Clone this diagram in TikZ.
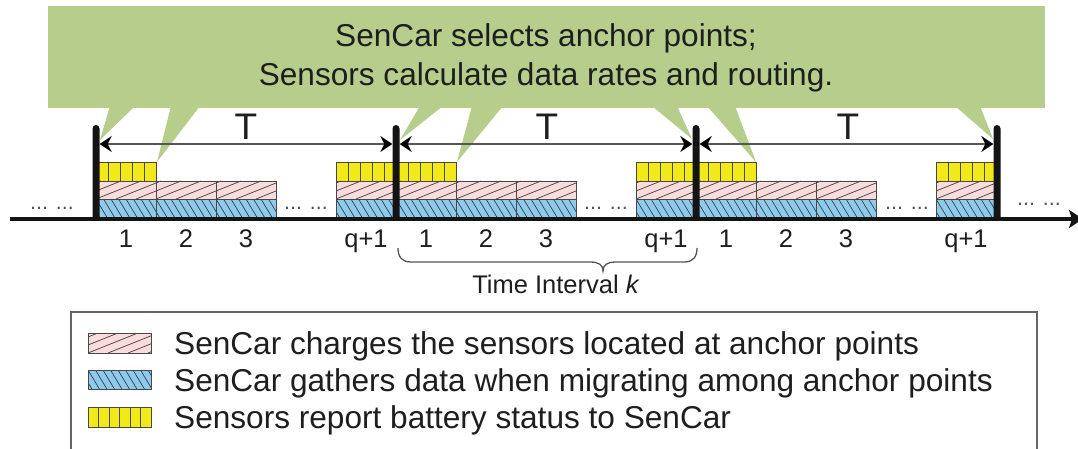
\documentclass[tikz,border=0pt]{standalone}
\usepackage{fontspec}
\setmainfont{Liberation Sans}
\usetikzlibrary{arrows.meta}
\definecolor{calloutgreen}{HTML}{B6CD8B}
\definecolor{yellowfill}{HTML}{F2EA18}
\definecolor{pinkfill}{HTML}{FADCDD}
\definecolor{bluefill}{HTML}{8DCBEE}
\definecolor{txt}{HTML}{1E1E1E}
\definecolor{dimgray}{HTML}{555555}
\definecolor{dotcol}{HTML}{4A5570}

\newcommand\pinkbox[4]{%
  \begin{scope}
    \clip ({#1},{#2}) rectangle ++({#3},{#4});
    \fill[pinkfill] ({#1},{#2}) rectangle ++({#3},{#4});
    \foreach \k in {-3,...,4}
      \draw[hatchline] ({#1+\k*20},{#2+#4}) -- ++({2.5*#4},{-#4});
  \end{scope}
  \draw[cellline] ({#1},{#2}) rectangle ++({#3},{#4});}

\newcommand\bluebox[4]{%
  \begin{scope}
    \clip ({#1},{#2}) rectangle ++({#3},{#4});
    \fill[bluefill] ({#1},{#2}) rectangle ++({#3},{#4});
    \foreach \k in {-3,...,10}
      \draw[hatchline] ({#1+\k*7.5},{#2}) -- ++({0.6*#4},{#4});
  \end{scope}
  \draw[cellline] ({#1},{#2}) rectangle ++({#3},{#4});}

\newcommand\yellowbox[5]{%
  \begin{scope}
    \clip ({#1},{#2}) rectangle ++({#3},{#4});
    \fill[yellowfill] ({#1},{#2}) rectangle ++({#3},{#4});
    \foreach \k in {1,...,6}
      \draw[cellline] ({#1+\k*#5},{#2}) -- ++(0,{#4});
  \end{scope}
  \draw[cellline] ({#1},{#2}) rectangle ++({#3},{#4});}

\begin{document}
\begin{tikzpicture}[x=1pt,y=-1pt,
  hatchline/.style={draw=black!75, line width=0.7pt},
  cellline/.style={draw=black!72, line width=0.9pt},
  barnode/.style={fill=black!92, draw=none, minimum width=7pt, minimum height=96pt, inner sep=0pt, rounded corners=3.5pt},
  tline/.style={draw=dimgray, line width=1.8pt, arrows={Stealth[length=12pt,width=16pt,inset=4pt,color=black]-Stealth[length=12pt,width=16pt,inset=4pt,color=black]}},
  axisline/.style={draw=black!92, line width=3.5pt, arrows={-Stealth[length=14pt,width=18pt,inset=3pt]}},
  braceline/.style={draw=dimgray, line width=1.3pt},
  maintext/.style={font=\fontsize{31.6}{38}\selectfont, text=txt, inner sep=0pt, anchor=base},
  legendtext/.style={font=\fontsize{31.6}{38}\selectfont, text=txt, inner sep=0pt, anchor=base west},
  tlabel/.style={font=\fontsize{37}{44}\selectfont, text=txt, inner sep=0pt, anchor=base},
  numlabel/.style={font=\fontsize{25.5}{30}\selectfont, text=txt, inner sep=0pt, anchor=base},
  dotstyle/.style={font=\fontsize{21.5}{26}\selectfont, text=dotcol, inner sep=0pt, anchor=base},
  legendframe/.style={draw=black!60, line width=1.5pt}
]
\fill[white] (0,0) rectangle (1078,449);
\useasboundingbox (0,0) rectangle (1078,449);

% callout
\fill[calloutgreen] (48,6) rectangle (1045,108);
\fill[calloutgreen] (110,106) -- (135,106) -- (100,140) -- cycle;
\fill[calloutgreen] (171,106) -- (200,106) -- (157,162) -- cycle;
\fill[calloutgreen] (420,106) -- (443,106) -- (400,140) -- cycle;
\fill[calloutgreen] (472,106) -- (503,106) -- (457,162) -- cycle;
\fill[calloutgreen] (652,106) -- (677,106) -- (692,139) -- cycle;
\fill[calloutgreen] (707,106) -- (735,106) -- (756,162) -- cycle;
\fill[calloutgreen] (955,106) -- (980,106) -- (993,139) -- cycle;
\node[maintext] (cl1) at (546,46.5) {SenCar selects anchor points;};
\node[maintext] (cl2) at (546,86) {Sensors calculate data rates and routing.};

% blocks
\foreach \b in {96,396,696}{
  \yellowbox{\b}{162}{60}{19}{12}
  \pinkbox{\b}{181}{60}{18}
  \bluebox{\b}{199}{60}{19}
  \pinkbox{\b+60}{181}{60}{18}
  \bluebox{\b+60}{199}{60}{19}
  \pinkbox{\b+120}{181}{60}{18}
  \bluebox{\b+120}{199}{60}{19}
  \yellowbox{\b+240}{162}{60}{19}{12}
  \pinkbox{\b+240}{181}{60}{18}
  \bluebox{\b+240}{199}{60}{19}
}

% axis
\coordinate (axs) at (10,219);
\coordinate (axe) at (1083,219);
\draw[axisline] (axs) -- (axe);

% bars
\node[barnode] (bar1) at (96,173) {};
\node[barnode] (bar2) at (396,173) {};
\node[barnode] (bar3) at (696,173) {};
\node[barnode] (bar4) at (997,173) {};

% T dimension lines
\coordinate (tl) at (0,144);
\draw[tline] (bar1.east |- tl) -- (bar2.west |- tl);
\draw[tline] (bar2.east |- tl) -- (bar3.west |- tl);
\draw[tline] (bar3.east |- tl) -- (bar4.west |- tl);
\node[tlabel] (T1) at (246,140) {T};
\node[tlabel] (T2) at (547,140) {T};
\node[tlabel] (T3) at (848,140) {T};

% dots
\node[dotstyle] (d0) at (52,209.5) {... ...};
\node[dotstyle] (d1) at (306,209.5) {... ...};
\node[dotstyle] (d2) at (606,209.5) {... ...};
\node[dotstyle] (d3) at (907,209.5) {... ...};
\node[dotstyle] (d4) at (1039,205) {... ...};

% number labels
\foreach \b/\i in {96/1,396/2,696/3}{
  \node[numlabel] (one\i) at ({\b+30},247) {1};
  \node[numlabel] (two\i) at ({\b+90},247) {2};
  \node[numlabel] (three\i) at ({\b+150},247) {3};
  \node[numlabel] (qp\i) at ({\b+270},247) {q+1};
}

% brace
\draw[braceline] (398,248) .. controls (398,257) and (402,262) .. (411,262)
  -- (590,262) .. controls (599,262) and (603,265) .. (603,271)
  .. controls (603,265) and (607,262) .. (616,262)
  -- (684,262) .. controls (693,262) and (697,257) .. (697,248);
\node[numlabel] (tik) at (556,293) {Time Interval \textit{k}};

% legend
\draw[legendframe] (71,312) rectangle (1037,470);
\pinkbox{88}{333}{63}{20}
\bluebox{88}{370}{63}{19}
\yellowbox{88}{407}{63}{20}{10.5}
\node[legendtext] (lg1) at (174,354.5) {SenCar charges the sensors located at anchor points};
\node[legendtext] (lg2) at (174,391) {SenCar gathers data when migrating among anchor points};
\node[legendtext] (lg3) at (174,428) {Sensors report battery status to SenCar};
\end{tikzpicture}
\end{document}
